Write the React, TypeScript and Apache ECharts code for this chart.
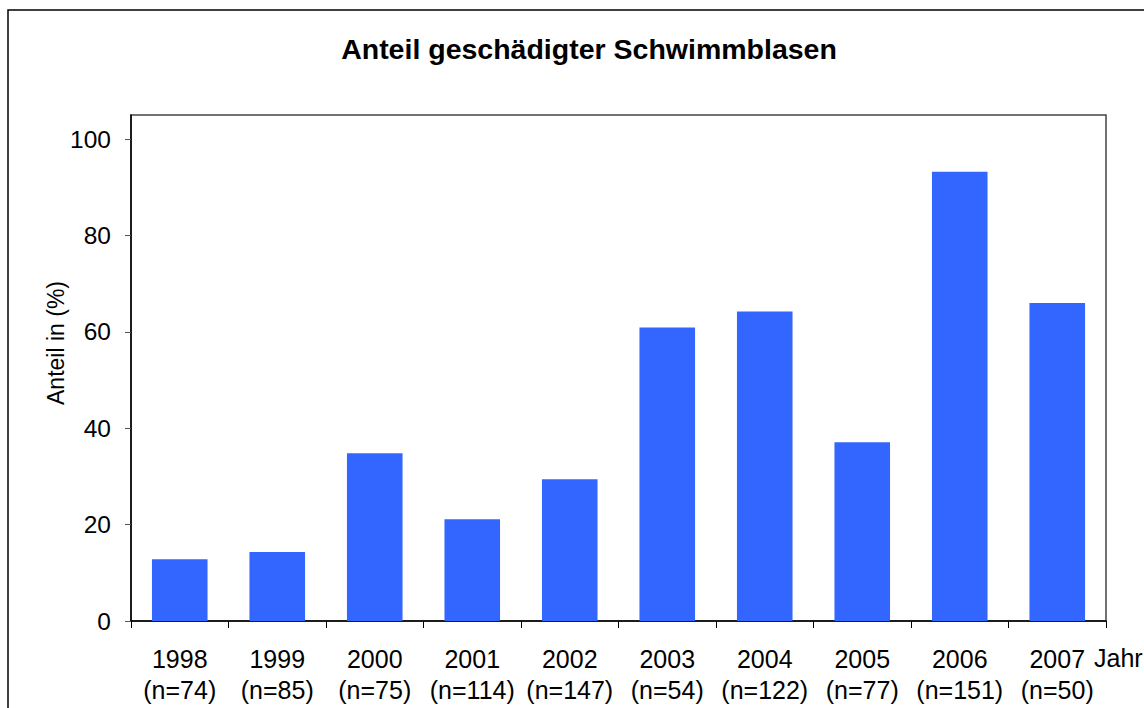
import React, { useEffect, useRef } from "react";
import * as echarts from "echarts";

const years = ["1998", "1999", "2000", "2001", "2002", "2003", "2004", "2005", "2006", "2007"];
const sampleSizes = [74, 85, 75, 114, 147, 54, 122, 77, 151, 50];
const shares = [12.8, 14.3, 34.8, 21.1, 29.4, 60.9, 64.2, 37.1, 93.2, 66.0];
const yTicks = [0, 20, 40, 60, 80, 100];

const FONT = "'Liberation Sans', Arial, sans-serif";

export default function App() {
  const ref = useRef<HTMLDivElement>(null);
  useEffect(() => {
    if (!ref.current) return;
    const chart = echarts.init(ref.current, null, { renderer: "svg" });
    const categories = years.map((y, i) => `${y}\n(n=${sampleSizes[i]})`);
    chart.setOption({
      animation: false,
      backgroundColor: "#ffffff",
      textStyle: { fontFamily: FONT },
      grid: {
        left: 131,
        top: 115,
        right: 38,
        bottom: 87,
        show: true,
        borderColor: "#444",
        borderWidth: 1.5,
        containLabel: false,
      },
      xAxis: {
        type: "category",
        data: categories,
        boundaryGap: true,
        axisLine: { show: true, lineStyle: { color: "#000", width: 1.5 } },
        axisTick: { show: true, length: 7, alignWithLabel: false, lineStyle: { color: "#000" } },
        axisLabel: {
          interval: 0,
          margin: 22,
          fontSize: 25,
          lineHeight: 31,
          color: "#000",
          fontFamily: FONT,
        },
      },
      yAxis: {
        type: "value",
        min: 0,
        max: 105,
        splitLine: { show: false },
        axisLine: { show: true, lineStyle: { color: "#000", width: 1.5 } },
        axisTick: { show: true, length: 6, customValues: yTicks, lineStyle: { color: "#555" } },
        axisLabel: { customValues: yTicks, margin: 20, fontSize: 24.5, color: "#000", fontFamily: FONT },
      },
      series: [
        {
          type: "bar",
          data: shares,
          barWidth: "57%",
          itemStyle: { color: "#3366FF" },
        },
      ],
      graphic: [
        {
          type: "rect",
          shape: { x: 8, y: 10, width: 1200, height: 800 },
          style: { fill: "none", stroke: "#000", lineWidth: 1.5 },
          silent: true,
        },
        {
          type: "text",
          x: 589,
          y: 49,
          style: {
            text: "Anteil geschädigter Schwimmblasen",
            fontSize: 28.5,
            fontWeight: "bold",
            fontFamily: FONT,
            fill: "#000",
            align: "center",
            verticalAlign: "middle",
          },
        },
        {
          type: "text",
          x: 56,
          y: 343,
          rotation: Math.PI / 2,
          style: {
            text: "Anteil in (%)",
            fontSize: 23,
            fontFamily: FONT,
            fill: "#000",
            align: "center",
            verticalAlign: "middle",
          },
        },
        {
          type: "text",
          x: 1094,
          y: 658,
          style: {
            text: "Jahr",
            fontSize: 25,
            fontFamily: FONT,
            fill: "#000",
            verticalAlign: "middle",
          },
        },
      ],
    });
    return () => chart.dispose();
  }, []);
  return (
    <div
      ref={ref}
      style={{ position: "fixed", left: 0, top: 0, width: 1144, height: 708 }}
    />
  );
}
